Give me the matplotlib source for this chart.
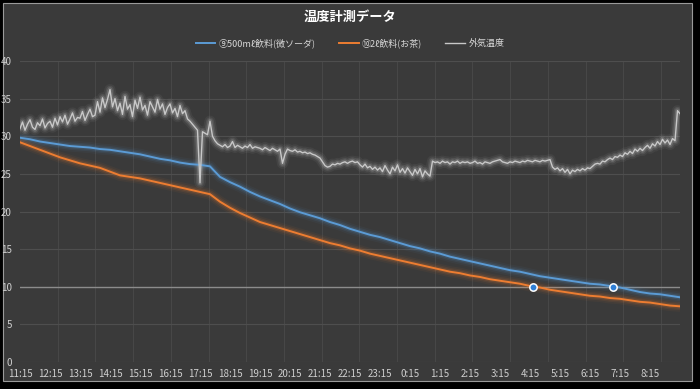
import numpy as np
import matplotlib
matplotlib.use("Agg")
import matplotlib.pyplot as plt
from matplotlib.patches import Rectangle

plt.rcParams['font.family'] = ['Noto Sans CJK JP', 'DejaVu Sans']

# ---- data ----
title = "温度計測データ"
labels = ["⑨500mℓ飲料(微ソーダ)", "⑩2ℓ飲料(お茶)", "外気温度"]
hour_labels = ["11:15", "12:15", "13:15", "14:15", "15:15", "16:15", "17:15",
               "18:15", "19:15", "20:15", "21:15", "22:15", "23:15", "0:15",
               "1:15", "2:15", "3:15", "4:15", "5:15", "6:15", "7:15", "8:15"]

# outside temperature, every 5 minutes from 11:15
gray_step_min = 5
outside = [
    31.0, 31.9, 30.8, 31.6, 32.2, 31.2, 30.9, 31.8, 31.4, 32.3, 31.1, 31.7,
    32.0, 31.2, 32.4, 31.5, 32.6, 31.9, 32.8, 31.6, 32.3, 33.1, 32.0, 32.5,
    32.4, 33.3, 32.1, 32.9, 33.6, 32.6, 32.8, 34.6, 33.2, 35.1, 33.8, 34.9,
    36.2, 33.9, 35.0, 33.4, 34.4, 32.9, 35.3, 33.6, 34.2, 32.6, 34.8, 33.7,
    35.2, 33.5, 34.1, 32.8, 34.6, 33.9, 33.2, 34.9, 33.6, 34.3, 32.9, 33.8,
    34.3, 33.1, 33.7, 32.6, 34.1, 33.0, 33.4, 32.3, 32.0, 31.6, 31.2, 30.8,
    23.8, 30.6, 30.4, 30.2, 32.0, 30.0, 29.4, 29.0, 28.8, 28.6, 28.9, 28.5,
    28.7, 29.3, 28.5, 28.8, 28.6, 28.4, 28.7, 28.5, 28.9, 28.4, 28.6, 28.5,
    28.4, 28.2, 28.5, 28.3, 28.1, 28.4, 28.2, 28.0, 28.3, 26.4, 27.6, 28.3,
    28.1, 28.0, 28.2, 27.9, 28.0, 27.8, 27.9, 27.7, 27.8, 27.6, 27.5, 27.3,
    27.1, 26.6, 26.1, 25.9, 26.0, 26.3, 26.2, 26.4, 26.3, 26.5, 26.6, 26.4,
    26.6, 26.7, 26.5, 26.6, 26.2, 25.9, 26.3, 25.8, 26.0, 25.6, 25.9, 25.5,
    25.8, 25.3, 26.1, 25.5, 25.0, 25.9, 25.4, 26.2, 25.2, 25.7, 25.1, 25.8,
    25.3, 24.8, 25.6, 25.0, 25.7, 24.6, 25.4, 25.0, 24.7, 26.7, 26.5, 26.6,
    26.4, 26.7, 26.5, 26.6, 26.3, 26.6, 26.5, 26.7, 26.4, 26.6, 26.5, 26.6,
    26.4, 26.5, 26.7, 26.4, 26.5, 26.3, 26.6, 26.5, 26.4, 26.6, 26.7, 26.8,
    26.9, 26.6, 26.5, 26.4, 26.6, 26.5, 26.7, 26.6, 26.5, 26.7, 26.6, 26.8,
    26.7, 26.6, 26.8, 26.7, 26.6, 26.8, 26.7, 26.8, 26.9, 25.9, 25.6, 25.8,
    25.4, 25.7, 25.2, 25.6, 25.0, 25.5, 25.3, 25.6, 25.4, 25.7, 25.5, 25.8,
    25.7, 26.0, 26.3, 26.4, 26.3, 26.7, 26.6, 26.9, 27.1, 26.9, 27.3, 27.2,
    27.5, 27.3, 27.8, 27.6, 28.0, 27.7, 28.3, 28.0, 28.4, 28.1, 28.5, 28.8,
    28.4, 29.0, 28.7, 29.3, 28.9, 29.6, 29.1, 29.5, 28.9, 29.7, 29.4, 33.4,
    33.0,
]

# drinks, every 20 minutes from 11:15
drink_step_min = 20
soda_500 = [
    29.8, 29.6, 29.3, 29.1, 28.9, 28.7, 28.6, 28.5, 28.3, 28.2, 28.0, 27.8,
    27.6, 27.3, 27.0, 26.8, 26.5, 26.3, 26.2, 26.0, 24.6, 23.9, 23.3, 22.6,
    22.0, 21.5, 21.0, 20.4, 19.9, 19.5, 19.1, 18.6, 18.2, 17.7, 17.3, 16.9,
    16.6, 16.2, 15.8, 15.4, 15.1, 14.7, 14.4, 14.0, 13.7, 13.4, 13.1, 12.8,
    12.5, 12.2, 12.0, 11.7, 11.4, 11.2, 11.0, 10.8, 10.6, 10.4, 10.3, 10.1,
    9.9, 9.6, 9.3, 9.1, 9.0, 8.8, 8.6,
]
tea_2l = [
    29.2, 28.7, 28.2, 27.7, 27.2, 26.8, 26.4, 26.1, 25.8, 25.3, 24.8, 24.6,
    24.4, 24.1, 23.8, 23.5, 23.2, 22.9, 22.6, 22.3, 21.3, 20.5, 19.8, 19.2,
    18.6, 18.2, 17.8, 17.4, 17.0, 16.6, 16.2, 15.8, 15.5, 15.1, 14.8, 14.4,
    14.1, 13.8, 13.5, 13.2, 12.9, 12.6, 12.3, 12.0, 11.8, 11.5, 11.3, 11.0,
    10.8, 10.6, 10.4, 10.1, 9.9, 9.6, 9.4, 9.2, 9.0, 8.8, 8.7, 8.5,
    8.4, 8.2, 8.0, 7.9, 7.7, 7.5, 7.4,
]

# points where each drink reaches 10 degrees (hours after 11:15)
cross_hours = [17.1, 19.77]
cross_temps = [10.0, 10.0]
threshold = 10

c_blue = "#5b9bd5"
c_orange = "#ed7d31"
c_gray = "#c8c8c8"
bg = "#3a3a3a"

t_out = np.arange(len(outside)) * gray_step_min / 60
t_drink = np.arange(len(soda_500)) * drink_step_min / 60

fig = plt.figure(figsize=(7, 3.89), dpi=100, facecolor="black")
fig.patches.append(Rectangle((3 / 700, 1 - 381 / 389), 689 / 700, 378 / 389,
                             transform=fig.transFigure, facecolor=bg,
                             edgecolor="#9a9a9a", linewidth=0.8, zorder=-1))

ax = fig.add_axes([20 / 700, 1 - 362 / 389, 660 / 700, 301 / 389])
ax.set_facecolor("none")


def glow_line(x, y, color, lw, label=None, strength=1.0):
    for w, a in [(8, 0.05), (5.5, 0.09), (3.4, 0.16)]:
        ax.plot(x, y, color=color, lw=w, alpha=a * strength,
                solid_capstyle="round", solid_joinstyle="round", zorder=3)
    ax.plot(x, y, color=color, lw=lw, label=label, zorder=4)


ax.axhline(threshold, color="#8c8c8c", lw=1.0, zorder=2)
glow_line(t_drink, soda_500, c_blue, 1.4, labels[0])
glow_line(t_drink, tea_2l, c_orange, 1.4, labels[1])
glow_line(t_out, outside, c_gray, 1.0, labels[2], strength=1.3)
ax.scatter(cross_hours, cross_temps, s=28, color="#2f7fd6", edgecolor="white",
           linewidth=1.1, zorder=6)

ax.set_xlim(0, 22)
ax.set_ylim(0, 40)
ax.set_yticks(range(0, 41, 5))
ax.set_xticks(range(len(hour_labels)))
ax.set_xticklabels(hour_labels)
ax.set_xticks(np.arange(0, 22, 37.7 / 30), minor=True)
ax.grid(axis="y", which="major", color="#4e4e4e", lw=0.8)
ax.grid(axis="x", which="minor", color="#474747", lw=0.8)
ax.tick_params(which="both", length=0, colors="#cfcfcf", labelsize=7)
ax.tick_params(axis="x", pad=5)
ax.tick_params(axis="y", pad=6)
for s in ax.spines.values():
    s.set_visible(False)

fig.text(0.5, 1 - 17 / 389, title, color="white", fontsize=9.5, fontweight="bold",
         ha="center", va="center")
fig.legend(loc="center", bbox_to_anchor=(0.5, 1 - 43 / 389), ncol=3, frameon=False,
           fontsize=6.5, labelcolor="#d8d8d8", handlelength=2.2, columnspacing=2.5,
           handletextpad=0.4)

fig.savefig("out.png", dpi=100, facecolor="black")
